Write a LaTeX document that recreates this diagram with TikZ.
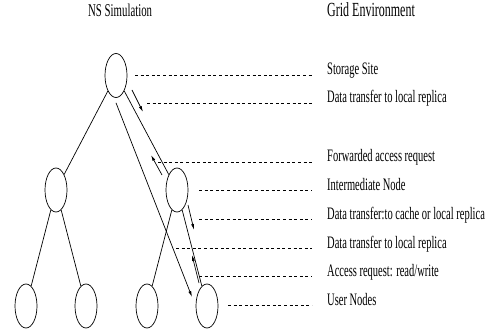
\documentclass[tikz,border=0pt]{standalone}
\usepackage{fontspec}
\setmainfont{Liberation Serif}[FakeStretch=0.6]
\usetikzlibrary{shapes.geometric,arrows.meta}
\tikzset{
  nd/.style={ellipse, draw, line width=0.7pt, minimum width=22pt, minimum height=44pt, inner sep=0pt},
  lab/.style={anchor=base west, inner sep=0pt, font=\fontsize{17.5}{20}\selectfont},
  hdr/.style={anchor=base west, inner sep=0pt},
  leader/.style={line width=0.7pt, dash pattern=on 3pt off 2.6pt},
  edge/.style={line width=0.7pt},
  arr/.style={line width=0.7pt, -{Latex[length=6pt,width=3pt]}}
}
\begin{document}
\begin{tikzpicture}[x=1pt,y=-1pt]
\useasboundingbox (0,0) rectangle (487,331);
% headers
\node[hdr, font=\fontsize{18}{20}\selectfont] (h1) at (88,17) {NS Simulation};
\node[hdr, font=\fontsize{20}{22}\selectfont] (h2) at (327,17) {Grid Environment};
% tree nodes
\node[nd] (top) at (116,75.5) {};
\node[nd] (ml) at (56,190) {};
\node[nd] (mr) at (177,190) {};
\node[nd] (b1) at (26,306) {};
\node[nd] (b2) at (86,306) {};
\node[nd] (b3) at (147,306) {};
\node[nd] (b4) at (207,306) {};
% edges
\draw[edge] (top) -- (ml);
\draw[edge] (top) -- (mr);
\draw[edge] (ml) -- (b1);
\draw[edge] (ml) -- (b2);
\draw[edge] (mr) -- (b3);
\draw[edge] (mr) -- (b4);
% arrows
\coordinate (a1s) at (132,90);  \coordinate (a1e) at (143,112);
\coordinate (a2s) at (162,175); \coordinate (a2e) at (151,155);
\coordinate (a3s) at (188,205); \coordinate (a3e) at (194,230);
\coordinate (a4s) at (199,283); \coordinate (a4e) at (192,255);
\coordinate (lge) at (192,297);
\draw[arr] (a1s) -- (a1e);
\draw[arr] (a2s) -- (a2e);
\draw[arr] (a3s) -- (a3e);
\draw[arr] (a4s) -- (a4e);
\draw[arr] ([yshift=-5pt]top.south) -- (lge);
% labels
\node[lab] (l1) at (327,75) {Storage Site};
\node[lab] (l2) at (327,103) {Data transfer to local replica};
\node[lab] (l3) at (327,161.5) {Forwarded access request};
\node[lab] (l4) at (327,190.5) {Intermediate Node};
\node[lab] (l5) at (327,219) {Data transfer:to cache or local replica};
\node[lab] (l6) at (327,248) {Data transfer to local replica};
\node[lab] (l7) at (327,276.5) {Access request: read/write};
\node[lab] (l8) at (327,305) {User Nodes};
% leaders
\draw[leader] (135,75) -- (312,75);
\draw[leader] (147,103) -- (312,103);
\draw[leader] (158,162) -- (312,162);
\draw[leader] (199,190.5) -- (312,190.5);
\draw[leader] (199,219) -- (312,219);
\draw[leader] (176,248) -- (312,248);
\draw[leader] (199,276.5) -- (312,276.5);
\draw[leader] (228,305) -- (312,305);
\end{tikzpicture}
\end{document}
